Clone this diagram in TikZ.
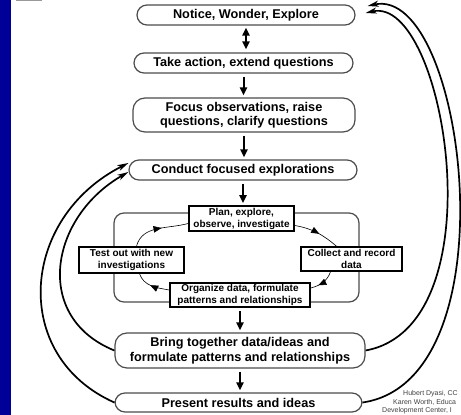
\documentclass[tikz,border=0pt]{standalone}
\usepackage{fontspec}
\setmainfont{Liberation Sans}
\usetikzlibrary{arrows.meta, decorations.markings}

\definecolor{slideblue}{RGB}{0,0,153}

\tikzset{
  mainbox/.style={draw=black!70, line width=1.2pt, fill=white, rounded corners=10pt,
    inner sep=0pt, align=center, font=\bfseries\fontsize{12.7}{14.5}\selectfont},
  cyclebox/.style={draw=black, line width=1.6pt, fill=white, inner sep=0pt,
    align=center, font=\bfseries\fontsize{10}{12}\selectfont},
  flow/.style={line width=2pt, -{Triangle[length=8pt,width=7pt]},
    shorten <=3pt, shorten >=2pt},
  backarc/.style={line width=1.7pt, -{Stealth[length=11pt,width=6pt,inset=3pt]}},
  cyclink/.style={line width=0.6pt,
    decoration={markings, mark=at position #1 with {\arrow{Triangle[length=8pt,width=6.5pt]}}},
    postaction={decorate}},
  credit/.style={font=\fontsize{7}{8}\selectfont, text=black!75, inner sep=0pt, anchor=west},
}

\begin{document}
\begin{tikzpicture}[x=1pt, y=1pt]

    % Fix the page to the slide area
    \useasboundingbox (0,0) rectangle (461,415);

    % Slide decoration
    \fill[slideblue] (0,0) rectangle (10.5,415);
    \fill[black!40] (16,413.5) rectangle (42,415);

    % Main sequence
    \node[mainbox, minimum width=218pt, minimum height=20pt] (notice) at (246,400) {Notice, Wonder, Explore};
    \node[mainbox, minimum width=219pt, minimum height=20pt] (action) at (243.5,352) {Take action, extend questions};
    \node[mainbox, minimum width=222pt, minimum height=34pt, rounded corners=12pt] (focus) at (244,300) {Focus observations, raise\\questions, clarify questions};
    \node[mainbox, minimum width=228pt, minimum height=20pt] (conduct) at (243,245) {Conduct focused explorations};

    % Frame round the inner cycle
    \draw[draw=black!70, line width=1.2pt, rounded corners=10pt] (114,113) rectangle (359,202);

    % Inner cycle
    \node[cyclebox, minimum width=105pt, minimum height=25pt] (plan) at (241.5,196.5) {Plan, explore,\\observe, investigate};
    \node[cyclebox, minimum width=101pt, minimum height=24pt] (collect) at (351.5,156) {Collect and record\\data};
    \node[cyclebox, minimum width=105pt, minimum height=26pt] (test) at (131.5,155) {Test out with new\\investigations};
    \node[cyclebox, minimum width=140pt, minimum height=24pt] (organize) at (240,120) {Organize data, formulate\\patterns and relationships};

    \draw[cyclink=0.55] ([yshift=-7pt]plan.east) to[out=-10, in=140] ([xshift=-15pt]collect.north);
    \draw[cyclink=0.7] ([xshift=-21pt]collect.south) to[out=-110, in=15] ([yshift=7pt]organize.east);
    \draw[cyclink=0.55] ([yshift=5pt]organize.west) to[out=170, in=-70] ([xshift=8pt]test.south);
    \draw[cyclink=0.55] ([xshift=5pt]test.north) to[out=75, in=195] ([yshift=-5pt]plan.west);

    % Closing steps
    \node[mainbox, minimum width=250pt, minimum height=35pt, rounded corners=12pt] (bring) at (240,64.5) {Bring together data/ideas and\\formulate patterns and relationships};
    \node[mainbox, minimum width=247pt, minimum height=19pt] (present) at (238.5,12.5) {Present results and ideas};

    % Straight arrows down the sequence
    \draw[line width=2pt, {Triangle[length=8pt,width=7pt]}-{Triangle[length=8pt,width=7pt]}, shorten <=2pt, shorten >=3pt] (notice.south) -- (notice.south |- action.north);
    \draw[flow] (action.south) -- (action.south |- focus.north);
    \draw[flow] (focus.south) -- (focus.south |- conduct.north);
    \draw[flow] (conduct.south) -- (conduct.south |- plan.north);
    \draw[flow] (organize.south) -- (organize.south |- bring.north);
    \draw[flow] (bring.south) -- (bring.south |- present.north);

    % Arrows back to earlier steps
    \draw[backarc] (bring.west) .. controls (32,98) and (50,198) .. ([yshift=-2pt]conduct.west);
    \draw[backarc] (present.west) .. controls (10,59) and (20,197) .. ([yshift=7pt]conduct.west);
    \draw[backarc] (bring.east) .. controls (500,89) and (445,420) .. ([xshift=10pt, yshift=2pt]notice.east);
    \draw[backarc] (present.east) .. controls (515,35) and (465,430) .. ([xshift=12pt, yshift=9pt]notice.east);

    % Credits
    \node[credit] (credit1) at (403,21) {Hubert Dyasi, CC};
    \node[credit] (credit2) at (393,13) {Karen Worth, Educa};
    \node[credit] (credit3) at (382,4.5) {Development Center, I};

\end{tikzpicture}
\end{document}
